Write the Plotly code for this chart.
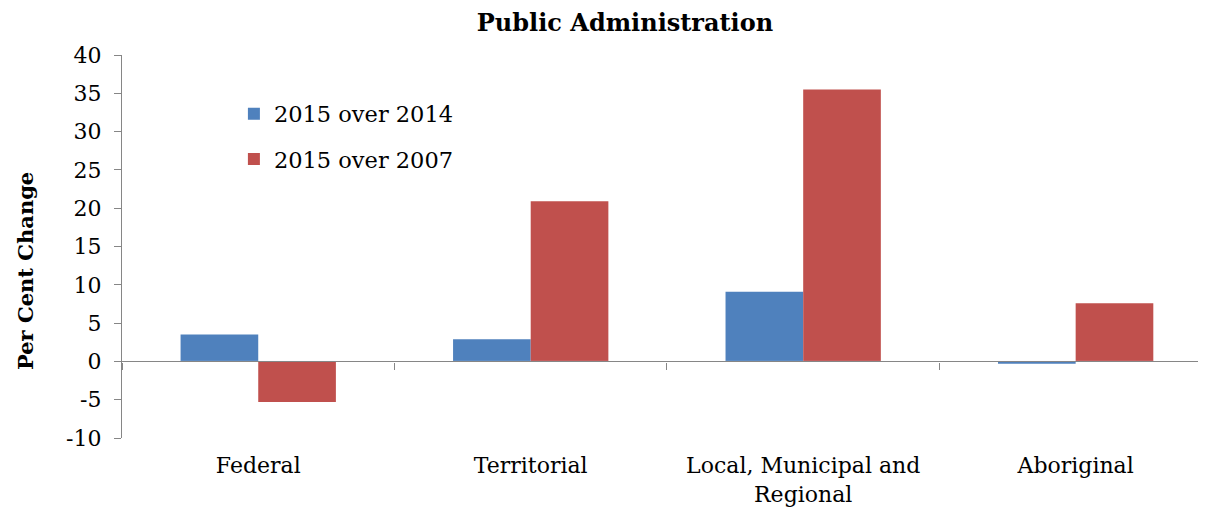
import plotly.graph_objects as go

categories = ["Federal", "Territorial", "Local, Municipal and<br>Regional", "Aboriginal"]
change_2014 = [3.5, 2.9, 9.1, -0.3]
change_2007 = [-5.3, 20.9, 35.5, 7.6]
y_ticks = [-10, -5, 0, 5, 10, 15, 20, 25, 30, 35, 40]
y_tick_labels = ["-10", "-5", "0", "5", "10", "15", "20", "25", "30", "35", "40"]

font_family = "DejaVu Serif"
axis_grey = "#868686"

fig = go.Figure()

fig.add_trace(go.Bar(x=categories, y=change_2014, name="2015 over 2014", legendgroup="a",
                     marker=dict(color="#4F81BD", line=dict(width=0))))
fig.add_trace(go.Bar(x=categories, y=change_2007, name="2015 over 2007", legendgroup="b",
                     marker=dict(color="#C0504D", line=dict(width=0))))

# invisible trace to activate the zero-line axis
fig.add_trace(go.Bar(x=categories, y=[0, 0, 0, 0], xaxis="x2", showlegend=False,
                     hoverinfo="skip", marker=dict(color="rgba(0,0,0,0)")))

# page body has an 8px margin, so the figure is sized/offset to compensate
fig.update_layout(
    width=1190,
    height=501,
    barmode="group",
    bargap=0.43,
    bargroupgap=0,
    plot_bgcolor="white",
    paper_bgcolor="white",
    margin=dict(l=114, r=0, t=47, b=71),
    font=dict(family=font_family, size=22, color="black"),
    title=dict(text="<b>Public Administration</b>", x=617 / 1190, xanchor="center",
               y=1 - 15 / 501, yanchor="middle", font=dict(size=24)),
    legend=dict(x=0.104, y=0.902, xanchor="left", yanchor="top",
                bgcolor="rgba(0,0,0,0)", font=dict(size=22.5), tracegroupgap=13,
                traceorder="grouped"),
    showlegend=True,
    # bottom axis: labels only
    xaxis=dict(range=[-0.5, 3.449], showline=False, ticks="", showgrid=False,
               automargin=False, tickfont=dict(size=22), ticklabelstandoff=12),
    # axis through zero with ticks on category boundaries
    xaxis2=dict(matches="x", overlaying="x", anchor="free", position=0.2,
                showline=True, linecolor=axis_grey, linewidth=1.3,
                ticks="outside", ticklen=7, tickcolor=axis_grey, tickwidth=1.3,
                tickson="boundaries", showticklabels=False, showgrid=False,
                automargin=False,
                type="category", categoryarray=categories, categoryorder="array"),
    yaxis=dict(range=[-10, 40], tickvals=y_ticks, ticktext=y_tick_labels,
               showgrid=False, zeroline=False, automargin=False,
               showline=True, linecolor=axis_grey, linewidth=1.3,
               ticks="outside", ticklen=7, tickcolor=axis_grey, tickwidth=1.3,
               tickfont=dict(size=22), ticklabelstandoff=8),
    annotations=[dict(text="<b>Per Cent Change</b>", textangle=-90,
                      xref="paper", yref="paper", x=(17 - 114) / 1076,
                      y=(438 - 271) / 383, xanchor="center", yanchor="middle",
                      showarrow=False, font=dict(size=21))],
)

fig.write_html("out.html")
